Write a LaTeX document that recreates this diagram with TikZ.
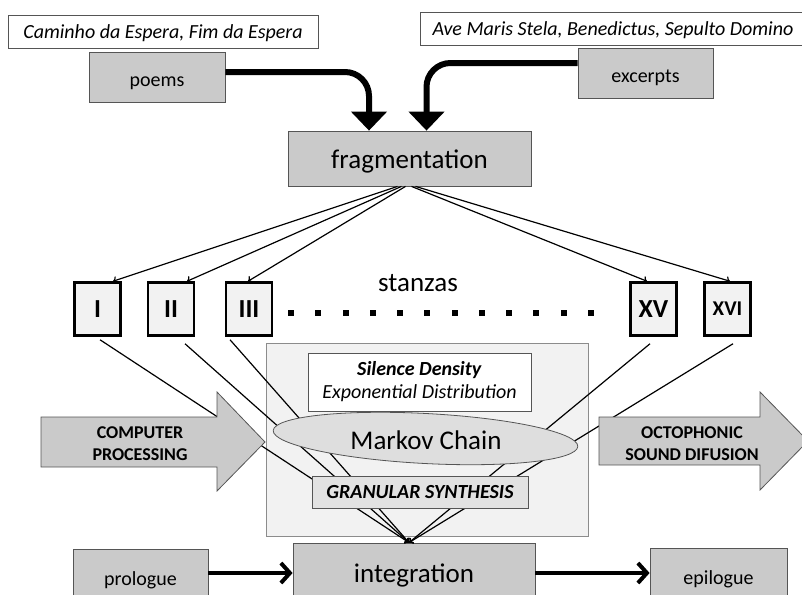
\documentclass[tikz,border=0pt]{standalone}
\usepackage{fontspec}
\setmainfont{Carlito}
\usetikzlibrary{arrows.meta,shapes.geometric}
\definecolor{boxgray}{RGB}{202,202,202}
\definecolor{panelgray}{RGB}{242,242,242}
\definecolor{ellgray}{RGB}{222,222,222}
\definecolor{grangray}{RGB}{226,226,226}
\definecolor{bordergray}{RGB}{85,85,85}
\begin{document}
\begin{tikzpicture}[x=1pt,y=-1pt,
  gbox/.style={draw=bordergray, fill=boxgray, line width=0.8pt, inner sep=0pt, text height=18pt, text depth=0pt, font=\fontsize{20}{24}\selectfont},
  wbox/.style={draw=bordergray, fill=white, line width=0.8pt, inner sep=0pt, text height=15pt, text depth=0pt, font=\itshape\fontsize{20}{24}\selectfont},
  stzbox/.style={draw=black, fill=panelgray, line width=2.5pt, minimum width=46pt, minimum height=53pt, inner sep=0pt, font=\bfseries\fontsize{26}{26}\selectfont},
  bigtext/.style={font=\fontsize{27}{27}\selectfont},
  bigbox/.style={text height=19pt, text depth=0pt},
  bigarrow/.style={line width=6pt, rounded corners=24pt, -{Triangle[length=19pt,width=35pt]}},
  fan/.style={line width=1.2pt, -{To[length=4pt,width=8pt]}},
  conv/.style={line width=1.2pt, -{To[length=4pt,width=7pt]}},
  flow/.style={line width=4pt, -{Straight Barb[length=9pt,width=20pt]}},
  fatarrow/.style={draw=bordergray, fill=boxgray, line width=0.8pt},
  arrowlabel/.style={font=\bfseries\fontsize{18}{22}\selectfont, align=center}
]
\useasboundingbox (0,0) rectangle (802,594);

% sources
\node[wbox, minimum width=310pt, minimum height=33pt] (cam) at (163,31.5) {Caminho da Espera, Fim da Espera};
\node[wbox, minimum width=386pt, minimum height=33pt] (ave) at (613,28.5) {Ave Maris Stela, Benedictus, Sepulto Domino};
\node[gbox, minimum width=136pt, minimum height=50pt] (poems) at (157,77) {poems};
\node[gbox, minimum width=135pt, minimum height=50pt] (exc) at (645.5,73) {excerpts};
\node[gbox, bigtext, bigbox, minimum width=243pt, minimum height=55pt] (frag) at (409.5,158.5) {fragmentation};

\draw[bigarrow] ([yshift=5pt]poems.east) -| ([xshift=-40.5pt]frag.north);
\draw[bigarrow] ([yshift=10pt]exc.west) -| ([xshift=17pt]frag.north);

% stanzas
\node[stzbox] (s1) at (97.5,309) {I};
\node[stzbox] (s2) at (171,309) {II};
\node[stzbox] (s3) at (249,309) {III};
\node[stzbox] (s15) at (653.5,309) {XV};
\node[stzbox, font=\bfseries\fontsize{21}{21}\selectfont] (s16) at (727.5,309) {XVI};
\node[bigtext] (stlabel) at (418,283) {stanzas};
\foreach \k in {0,...,11} \fill ({288+27.27*\k},310) rectangle ++(6,6);

\draw[fan] ([xshift=-12pt]frag.south) -- ([xshift=15.5pt]s1.north);
\draw[fan] ([xshift=-8pt]frag.south) -- ([xshift=16pt]s2.north);
\draw[fan] ([xshift=-4pt]frag.south) -- ([xshift=-1pt]s3.north);
\draw[fan] ([xshift=2pt]frag.south) -- ([xshift=-6.5pt]s15.north);
\draw[fan] ([xshift=6pt]frag.south) -- ([xshift=2.5pt]s16.north);

% processing panel
\node[draw=black!45, fill=panelgray, line width=0.8pt, minimum width=322pt, minimum height=193pt, inner sep=0pt] (panel) at (427,439.5) {};
\node[gbox, bigtext, bigbox, minimum width=242pt, minimum height=60pt] (integ) at (414,573) {integration};

\draw[conv] ([shift={(2.5pt,-3pt)}]s1.south) -- ([xshift=-5pt]integ.north);
\draw[conv] ([shift={(14pt,-7pt)}]s2.south) -- ([xshift=-5pt]integ.north);
\draw[conv] ([shift={(-19pt,-3pt)}]s3.south) -- ([xshift=-5pt]integ.north);
\draw[conv] ([shift={(-3.5pt,-7pt)}]s15.south) -- ([xshift=-5pt]integ.north);
\draw[conv] ([shift={(5.5pt,-7pt)}]s16.south) -- ([xshift=-5pt]integ.north);

\node[draw=bordergray, fill=white, line width=0.8pt, minimum width=223pt, minimum height=58pt, inner sep=0pt, align=center, font=\fontsize{20}{23}\selectfont] (sil) at (419.5,382) {\textbf{\textit{Silence Density}}\\\textit{Exponential Distribution}};
\node[ellipse, draw=bordergray, fill=ellgray, line width=0.8pt, minimum width=305pt, minimum height=50pt, rotate=-3] (mk) at (425.5,438.5) {};
\node[bigtext] (mktext) at (426,440) {Markov Chain};
\node[draw=bordergray, fill=grangray, line width=0.8pt, minimum width=216pt, minimum height=32pt, inner sep=0pt, font=\bfseries\itshape\fontsize{20}{24}\selectfont] (gran) at (420,492) {GRANULAR SYNTHESIS};

% fat arrows
\draw[fatarrow] (41,417) -- (217,417) -- (217,392) -- (265,442) -- (217,491) -- (217,467) -- (41,467) -- cycle;
\node[arrowlabel] (cp) at (140,444) {COMPUTER\\PROCESSING};
\draw[fatarrow] (599,417) -- (760,417) -- (760,392) -- (808,441) -- (760,490) -- (760,465) -- (599,465) -- cycle;
\node[arrowlabel] (oct) at (692,444) {OCTOPHONIC\\SOUND DIFUSION};

% bottom row
\node[gbox, minimum width=135pt, minimum height=54pt] (pro) at (140.5,576) {prologue};
\node[gbox, minimum width=137pt, minimum height=54pt] (epi) at (718.5,575) {epilogue};
\draw[flow] ([yshift=3pt]pro.east) -- (integ.west);
\draw[flow] (integ.east) -- ([yshift=2pt]epi.west);
\end{tikzpicture}
\end{document}
